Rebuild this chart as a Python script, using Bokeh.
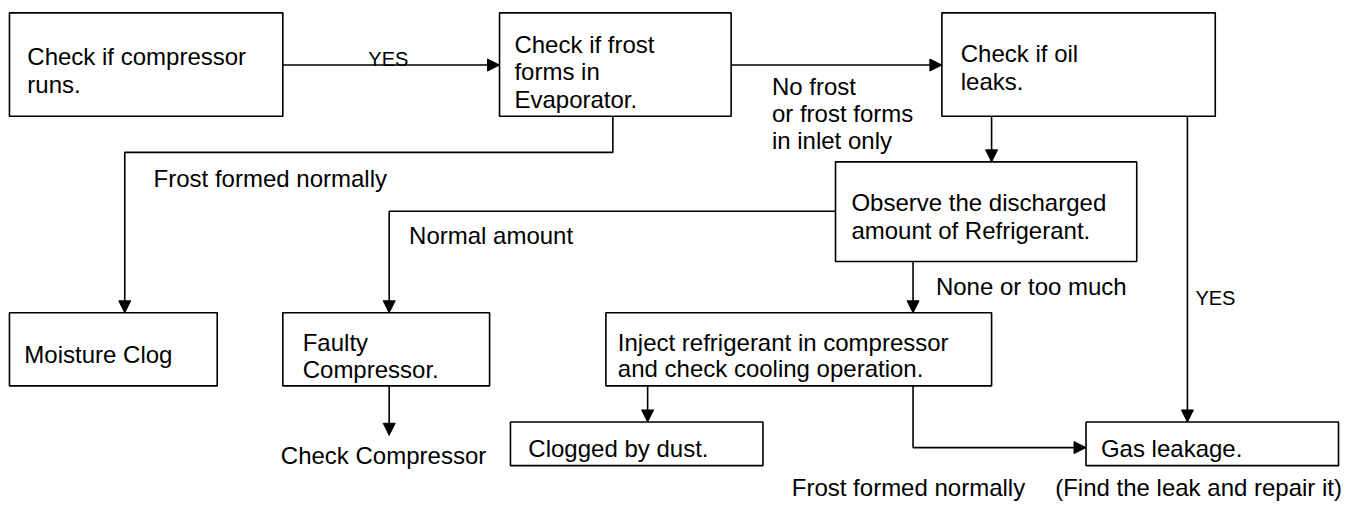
from bokeh.plotting import figure
from bokeh.models import Arrow, NormalHead, Range1d, ColumnDataSource
from bokeh.core.properties import value
from bokeh.embed import file_html
from bokeh.resources import INLINE

FONT = "Liberation Sans"

# ---- boxes: (left, top, right, bottom) in page pixels, text lines, text x, baselines
box_names = ["compressor", "frost", "oil", "observe", "moisture", "faulty", "inject", "dust", "gas"]
box_left = [9, 502, 947, 840, 9, 284, 609, 513, 1092]
box_top = [13, 13, 13, 170, 329, 329, 329, 444, 444]
box_right = [284, 735, 1222, 1143, 218, 492, 997, 767, 1346]
box_bottom = [122, 122, 122, 275, 406, 406, 406, 490, 490]
box_lines = [
    ["Check if compressor", "runs."],
    ["Check if frost", "forms in", "Evaporator."],
    ["Check if oil", "leaks."],
    ["Observe the discharged", "amount of Refrigerant."],
    ["Moisture Clog"],
    ["Faulty", "Compressor."],
    ["Inject refrigerant in compressor", "and check cooling operation."],
    ["Clogged by dust."],
    ["Gas leakage."],
]
box_text_x = [27, 517, 966, 856, 24, 304, 621, 531, 1107]
box_text_y = [[59, 88], [46, 75, 104], [56, 85], [213, 242], [373], [360, 389], [360, 388], [472], [472]]

# ---- free labels
label_text = ["YES", "No frost", "or frost forms", "in inlet only", "Frost formed normally",
              "Normal amount", "None or too much", "YES", "Check Compressor",
              "Frost formed normally", "(Find the leak and repair it)"]
label_x = [370, 776, 776, 776, 154, 411, 941, 1202, 282, 796, 1061]
label_y = [62, 91, 119, 148, 188, 248, 301, 313, 479, 513, 513]
label_size = ["20px", "24px", "24px", "24px", "24px", "24px", "24px", "20px", "24px", "24px", "24px"]

# ---- connectors (polylines, arrow at the end)
conn_x = [[284, 502], [735, 947], [616, 616, 125, 125], [997, 997], [1194, 1194],
          [840, 391, 391], [918, 918], [391, 391], [651, 651], [918, 918, 1092]]
conn_y = [[68, 68], [68, 68], [122, 160, 160, 329], [122, 170], [122, 444],
          [222, 222, 329], [275, 329], [406, 458], [406, 444], [406, 471, 471]]

p = figure(width=1342, height=505, x_range=Range1d(0, 1350), y_range=Range1d(532, 0),
           x_axis_type=None, y_axis_type=None, output_backend="svg",
           toolbar_location=None, min_border=0)
p.grid.visible = False
p.outline_line_color = None
p.background_fill_color = "white"
p.border_fill_color = "white"

p.multi_line(xs=conn_x, ys=conn_y, line_color="black", line_width=1.6)

for xs, ys in zip(conn_x, conn_y):
    p.add_layout(Arrow(end=NormalHead(size=12, fill_color="black", line_color="black", line_width=1),
                       x_start=xs[-2], y_start=ys[-2], x_end=xs[-1], y_end=ys[-1],
                       line_alpha=0))

src = ColumnDataSource(dict(left=box_left, right=box_right, top=box_top, bottom=box_bottom))
p.quad(left="left", right="right", top="top", bottom="bottom", source=src,
       fill_color="white", line_color="black", line_width=1.6)

tx, ty, tt = [], [], []
for lines, x, ys in zip(box_lines, box_text_x, box_text_y):
    for line, y in zip(lines, ys):
        tx.append(x)
        ty.append(y)
        tt.append(line)
p.text(x=tx, y=ty, text=tt, text_font=value(FONT), text_font_size="24px",
       text_baseline="alphabetic", text_align="left", text_color="black")

p.text(x=label_x, y=label_y, text=label_text, text_font=value(FONT),
       text_font_size=label_size, text_baseline="alphabetic", text_align="left",
       text_color="black")

open("out.html", "w").write(file_html(p, INLINE))
